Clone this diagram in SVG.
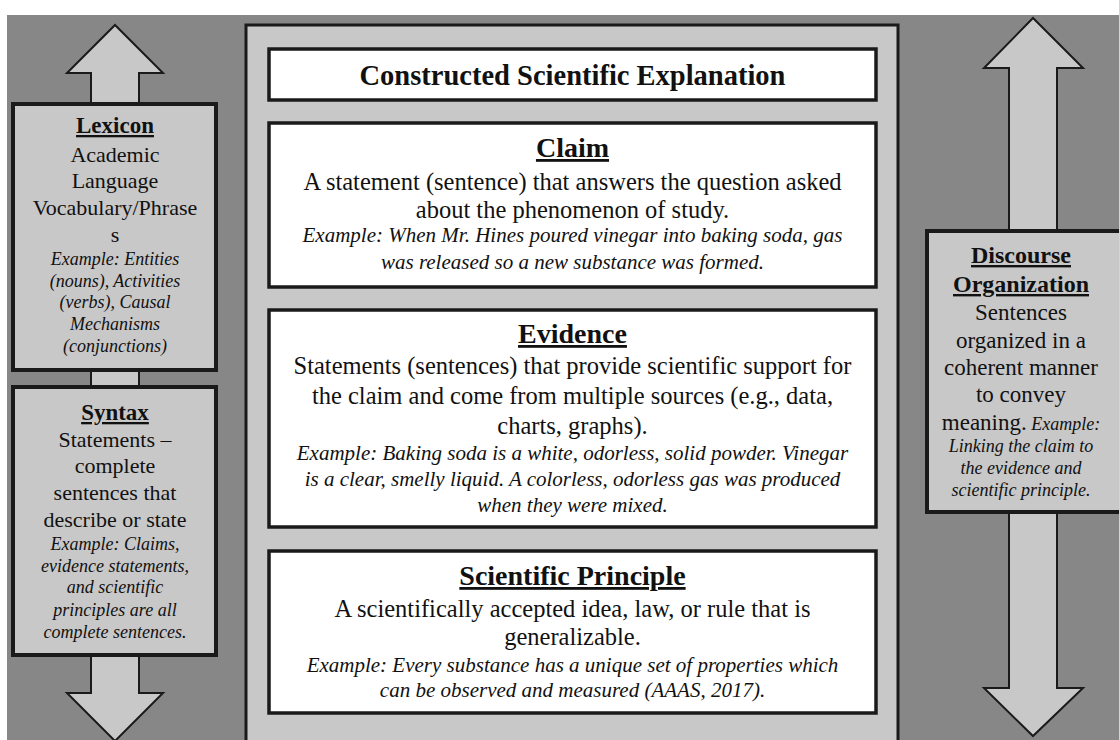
<svg xmlns="http://www.w3.org/2000/svg" width="1119" height="740" viewBox="0 0 1119 740" font-family="Liberation Serif">
<style>
text, tspan { font-family: 'Liberation Serif', serif !important; }
</style>
<rect x="0" y="0" width="1119" height="740" fill="#fff"/>
<rect x="7" y="15" width="1112" height="725" fill="#878787"/>
<g id="connectors" fill="#c8c8c8" stroke="#1a1a1a" stroke-width="2">
<polygon points="115,25 163,73 139,73 139,693 163,693 115,741 67,693 91,693 91,73 67,73"/>
<polygon points="1033,18 1083,68 1057,68 1057,688 1083,688 1033,736 984,688 1009,688 1009,68 984,68"/>
</g>
<g id="panel">
<rect x="246" y="25" width="652" height="730" fill="#c8c8c8" stroke="#1a1a1a" stroke-width="3"/>
</g>
<g id="title" text-anchor="middle" fill="#111">
<rect x="269" y="49" width="607" height="51" fill="#fff" stroke="#1a1a1a" stroke-width="3.5"/>
<text x="572.5" y="85" style="font-family:'Liberation Serif',serif !important;font-weight:bold;font-size:28.5px">Constructed Scientific Explanation</text>
</g>
<g id="claim" text-anchor="middle" fill="#111">
<rect x="269" y="123" width="607" height="164" fill="#fff" stroke="#1a1a1a" stroke-width="3.5"/>
<text x="572.5" y="157" style="font-family:'Liberation Serif',serif !important;font-weight:bold;font-size:28px;text-decoration:underline">Claim</text>
<text x="572.5" y="190" style="font-family:'Liberation Serif',serif !important;font-size:24.5px">A statement (sentence) that answers the question asked</text>
<text x="572.5" y="218" style="font-family:'Liberation Serif',serif !important;font-size:24.5px">about the phenomenon of study.</text>
<text x="572.5" y="242" style="font-family:'Liberation Serif',serif !important;font-style:italic;font-size:21px">Example: When Mr. Hines poured vinegar into baking soda, gas</text>
<text x="572.5" y="269" style="font-family:'Liberation Serif',serif !important;font-style:italic;font-size:21px">was released so a new substance was formed.</text>
</g>
<g id="evidence" text-anchor="middle" fill="#111">
<rect x="269" y="310" width="607" height="217" fill="#fff" stroke="#1a1a1a" stroke-width="3.5"/>
<text x="572.5" y="343" style="font-family:'Liberation Serif',serif !important;font-weight:bold;font-size:28px;text-decoration:underline">Evidence</text>
<text x="572.5" y="374" style="font-family:'Liberation Serif',serif !important;font-size:24.5px">Statements (sentences) that provide scientific support for</text>
<text x="572.5" y="404" style="font-family:'Liberation Serif',serif !important;font-size:24.5px">the claim and come from multiple sources (e.g., data,</text>
<text x="572.5" y="434" style="font-family:'Liberation Serif',serif !important;font-size:24.5px">charts, graphs).</text>
<text x="572.5" y="460" style="font-family:'Liberation Serif',serif !important;font-style:italic;font-size:21px">Example: Baking soda is a white, odorless, solid powder. Vinegar</text>
<text x="572.5" y="486" style="font-family:'Liberation Serif',serif !important;font-style:italic;font-size:21px">is a clear, smelly liquid. A colorless, odorless gas was produced</text>
<text x="572.5" y="512" style="font-family:'Liberation Serif',serif !important;font-style:italic;font-size:21px">when they were mixed.</text>
</g>
<g id="principle" text-anchor="middle" fill="#111">
<rect x="269" y="551" width="607" height="162" fill="#fff" stroke="#1a1a1a" stroke-width="3.5"/>
<text x="572.5" y="585" style="font-family:'Liberation Serif',serif !important;font-weight:bold;font-size:28px;text-decoration:underline">Scientific Principle</text>
<text x="572.5" y="617" style="font-family:'Liberation Serif',serif !important;font-size:24.5px">A scientifically accepted idea, law, or rule that is</text>
<text x="572.5" y="645" style="font-family:'Liberation Serif',serif !important;font-size:24.5px">generalizable.</text>
<text x="572.5" y="672" style="font-family:'Liberation Serif',serif !important;font-style:italic;font-size:21px">Example: Every substance has a unique set of properties which</text>
<text x="572.5" y="697" style="font-family:'Liberation Serif',serif !important;font-style:italic;font-size:21px">can be observed and measured (AAAS, 2017).</text>
</g>
<g id="lexicon" text-anchor="middle" fill="#111">
<rect x="13" y="104" width="203" height="266" fill="#c8c8c8" stroke="#1a1a1a" stroke-width="4"/>
<text x="115" y="133" style="font-family:'Liberation Serif',serif !important;font-weight:bold;font-size:23px;text-decoration:underline">Lexicon</text>
<text x="115" y="162" style="font-family:'Liberation Serif',serif !important;font-size:22px">Academic</text>
<text x="115" y="188" style="font-family:'Liberation Serif',serif !important;font-size:22px">Language</text>
<text x="115" y="215" style="font-family:'Liberation Serif',serif !important;font-size:22px">Vocabulary/Phrase</text>
<text x="115" y="242" style="font-family:'Liberation Serif',serif !important;font-size:22px">s</text>
<text x="115" y="265" style="font-family:'Liberation Serif',serif !important;font-style:italic;font-size:18px">Example: Entities</text>
<text x="115" y="287" style="font-family:'Liberation Serif',serif !important;font-style:italic;font-size:18px">(nouns), Activities</text>
<text x="115" y="308" style="font-family:'Liberation Serif',serif !important;font-style:italic;font-size:18px">(verbs), Causal</text>
<text x="115" y="330" style="font-family:'Liberation Serif',serif !important;font-style:italic;font-size:18px">Mechanisms</text>
<text x="115" y="352" style="font-family:'Liberation Serif',serif !important;font-style:italic;font-size:18px">(conjunctions)</text>
</g>
<g id="syntax" text-anchor="middle" fill="#111">
<rect x="13" y="387" width="203" height="268" fill="#c8c8c8" stroke="#1a1a1a" stroke-width="4"/>
<text x="115" y="420" style="font-family:'Liberation Serif',serif !important;font-weight:bold;font-size:23px;text-decoration:underline">Syntax</text>
<text x="115" y="447" style="font-family:'Liberation Serif',serif !important;font-size:22px">Statements &#8211;</text>
<text x="115" y="473" style="font-family:'Liberation Serif',serif !important;font-size:22px">complete</text>
<text x="115" y="500" style="font-family:'Liberation Serif',serif !important;font-size:22px">sentences that</text>
<text x="115" y="527" style="font-family:'Liberation Serif',serif !important;font-size:22px">describe or state</text>
<text x="115" y="550" style="font-family:'Liberation Serif',serif !important;font-style:italic;font-size:18px">Example: Claims,</text>
<text x="115" y="572" style="font-family:'Liberation Serif',serif !important;font-style:italic;font-size:18px">evidence statements,</text>
<text x="115" y="593" style="font-family:'Liberation Serif',serif !important;font-style:italic;font-size:18px">and scientific</text>
<text x="115" y="616" style="font-family:'Liberation Serif',serif !important;font-style:italic;font-size:18px">principles are all</text>
<text x="115" y="638" style="font-family:'Liberation Serif',serif !important;font-style:italic;font-size:18px">complete sentences.</text>
</g>
<g id="discourse" text-anchor="middle" fill="#111">
<rect x="927" y="231" width="220" height="281" fill="#c8c8c8" stroke="#1a1a1a" stroke-width="4"/>
<text x="1021" y="263" style="font-family:'Liberation Serif',serif !important;font-weight:bold;font-size:24px;text-decoration:underline">Discourse</text>
<text x="1021" y="292" style="font-family:'Liberation Serif',serif !important;font-weight:bold;font-size:24px;text-decoration:underline">Organization</text>
<text x="1021" y="320" style="font-family:'Liberation Serif',serif !important;font-size:23px">Sentences</text>
<text x="1021" y="348" style="font-family:'Liberation Serif',serif !important;font-size:23px">organized in a</text>
<text x="1021" y="375" style="font-family:'Liberation Serif',serif !important;font-size:23px">coherent manner</text>
<text x="1021" y="402" style="font-family:'Liberation Serif',serif !important;font-size:23px">to convey</text>
<text x="1021" y="430" style="font-family:'Liberation Serif',serif !important;font-size:23px">meaning.<tspan style="font-style:italic;font-size:18px"> Example:</tspan></text>
<text x="1021" y="452" style="font-family:'Liberation Serif',serif !important;font-style:italic;font-size:18px">Linking the claim to</text>
<text x="1021" y="474" style="font-family:'Liberation Serif',serif !important;font-style:italic;font-size:18px">the evidence and</text>
<text x="1021" y="496" style="font-family:'Liberation Serif',serif !important;font-style:italic;font-size:18px">scientific principle.</text>
</g>
</svg>
